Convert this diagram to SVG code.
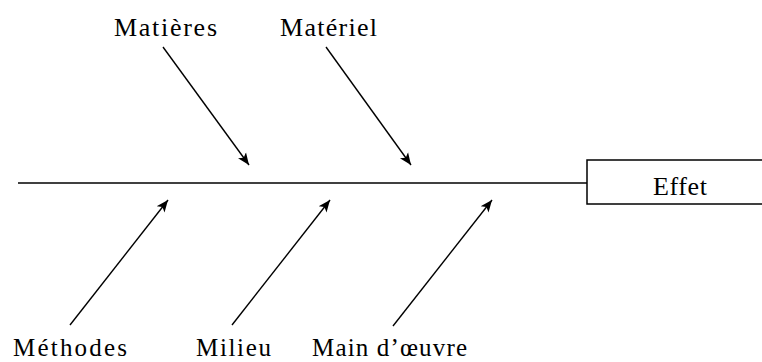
<svg xmlns="http://www.w3.org/2000/svg" width="762" height="362" viewBox="0 0 762 362">
<style>
.t{font-family:"Liberation Serif","Times New Roman",serif;font-size:26px;fill:#000}
.b{font-size:25px}
.c{stroke:#000;stroke-width:1.4;fill:none}
</style>
<defs>
<marker id="ah" markerUnits="userSpaceOnUse" markerWidth="14" markerHeight="12" viewBox="-12 -6 14 12" refX="0" refY="0" orient="auto">
<path d="M0,0 L-12,-5 L-9,0 L-12,5 Z" fill="#000"/>
</marker>
</defs>
<rect width="762" height="362" fill="#fff"/>
<g id="connectors">
<line class="c" x1="18" y1="183" x2="587" y2="183"/>
<line class="c" x1="163" y1="47" x2="249" y2="165" marker-end="url(#ah)"/>
<line class="c" x1="326" y1="47" x2="411" y2="165" marker-end="url(#ah)"/>
<line class="c" x1="70" y1="325" x2="168" y2="200" marker-end="url(#ah)"/>
<line class="c" x1="232" y1="325" x2="330" y2="200" marker-end="url(#ah)"/>
<line class="c" x1="393" y1="326" x2="492" y2="200" marker-end="url(#ah)"/>
</g>
<g id="effet">
<rect x="587" y="160" width="190" height="44" fill="#fff" stroke="#000" stroke-width="1.5"/>
<text class="t" x="653" y="195" textLength="54" lengthAdjust="spacing">Effet</text>
</g>
<g id="matieres"><text class="t" x="114" y="36" textLength="103" lengthAdjust="spacing">Matières</text></g>
<g id="materiel"><text class="t" x="280" y="36" textLength="97" lengthAdjust="spacing">Matériel</text></g>
<g id="methodes"><text class="t b" x="13" y="356" textLength="114" lengthAdjust="spacing">Méthodes</text></g>
<g id="milieu"><text class="t b" x="196" y="356" textLength="75" lengthAdjust="spacing">Milieu</text></g>
<g id="main-oeuvre"><text class="t b" x="312" y="356" textLength="155" lengthAdjust="spacing">Main d’œuvre</text></g>
</svg>
